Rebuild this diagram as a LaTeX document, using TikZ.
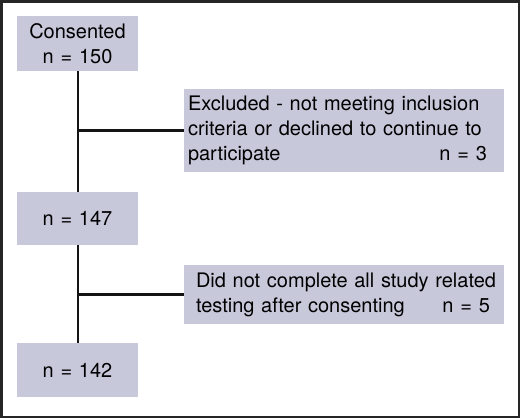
\documentclass[tikz,border=0pt]{standalone}
\usepackage{fontspec}
\setmainfont{TeX Gyre Heros}
\definecolor{boxfill}{RGB}{199,201,219}
\definecolor{linecol}{RGB}{20,20,20}
\newcommand\nval[1]{n\hspace{0.34em}=\hspace{0.34em}#1}
\hyphenpenalty=10000
\begin{document}
\begin{tikzpicture}[x=1pt,y=-1pt,
  box/.style={fill=boxfill, inner sep=0pt, font=\fontsize{20}{25}\selectfont},
  conn/.style={draw=linecol, line width=2.6pt}]
\useasboundingbox (0,0) rectangle (520,418);
\draw[line width=2.5pt, draw=black!85] (1.25,1.25) rectangle (518.75,416.75);
\node[box, minimum width=121pt, minimum height=55pt, align=center] (c) at (77.5,43.5) {Consented\\\nval{150}};
\node[box, minimum width=121pt, minimum height=53pt] (b) at (77.5,218.5) {\nval{147}};
\node[box, minimum width=121pt, minimum height=54pt] (d) at (77.5,370) {\nval{142}};
\node[box, minimum width=320pt, minimum height=83pt, text width=312pt, align=left] (e) at (344,130.5)
  {Excluded - not meeting inclusion\\criteria or declined to continue to\\\makebox[299pt][s]{participate\hfill \nval{3}}};
\node[box, minimum width=320pt, minimum height=59pt, text width=296pt, align=left] (f) at (344,294.5)
  {\mbox{Did not complete all study related}\\\makebox[\linewidth][s]{testing after consenting\hfill \nval{5}\hspace*{2pt}}};
\coordinate (j1) at (78,130.5);
\coordinate (j2) at (78,294.5);
\draw[conn] (c.south -| j1) -- (b.north -| j1);
\draw[conn] (b.south -| j2) -- (d.north -| j2);
\draw[conn] (j1) -- (e.west);
\draw[conn] (j2) -- (f.west);
\end{tikzpicture}
\end{document}
